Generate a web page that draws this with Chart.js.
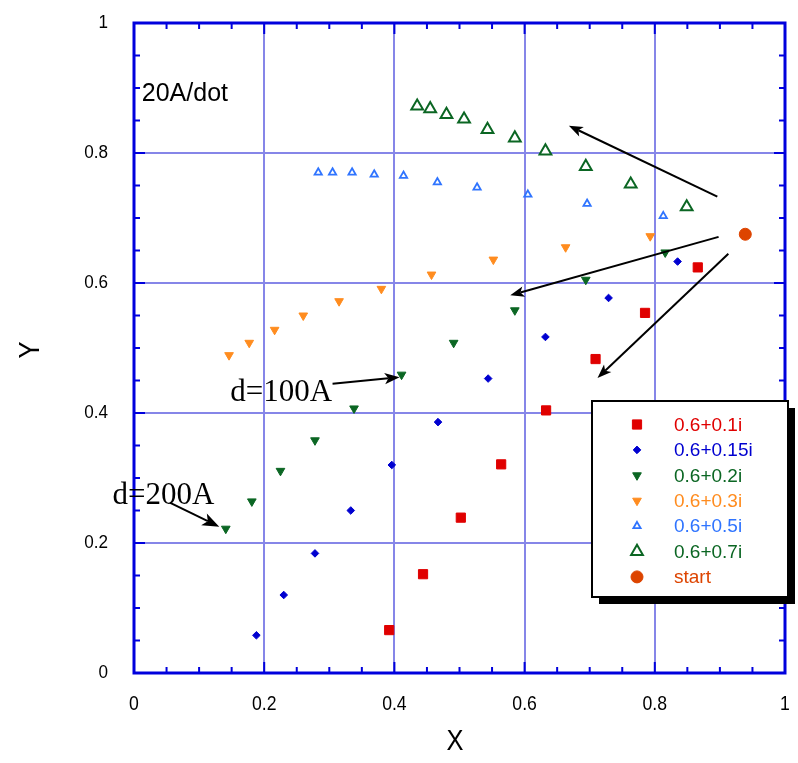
<!DOCTYPE html>
<html>
<head>
<meta charset="utf-8">
<script src="https://cdn.jsdelivr.net/npm/chart.js@4.4.1/dist/chart.umd.min.js"></script>
<style>
	body { margin: 0; background: #fff; }
	#wrap { width: 798px; height: 763px; }
</style>
</head>
<body>
<div id="wrap"><canvas id="chart" width="798" height="763"></canvas></div>
<script>
// axis ticks
var xTicks = [0, 0.2, 0.4, 0.6, 0.8, 1];
var xTickLabels = ['0', '0.2', '0.4', '0.6', '0.8', '1'];
var yTicks = [0, 0.2, 0.4, 0.6, 0.8, 1];
var yTickLabels = ['0', '0.2', '0.4', '0.6', '0.8', '1'];

// series
var seriesNames = ['0.6+0.1i', '0.6+0.15i', '0.6+0.2i', '0.6+0.3i', '0.6+0.5i', '0.6+0.7i', 'start'];

var x01 = [0.392, 0.444, 0.502, 0.564, 0.633, 0.709, 0.785, 0.866];
var y01 = [0.066, 0.152, 0.239, 0.321, 0.404, 0.483, 0.554, 0.624];

var x015 = [0.188, 0.230, 0.278, 0.333, 0.396, 0.467, 0.544, 0.632, 0.729, 0.835];
var y015 = [0.058, 0.120, 0.184, 0.250, 0.320, 0.386, 0.453, 0.517, 0.577, 0.633];

var x02 = [0.141, 0.181, 0.225, 0.278, 0.338, 0.411, 0.491, 0.585, 0.694, 0.816];
var y02 = [0.222, 0.264, 0.311, 0.358, 0.407, 0.459, 0.508, 0.558, 0.605, 0.647];

var x03 = [0.146, 0.177, 0.216, 0.260, 0.315, 0.380, 0.457, 0.552, 0.663, 0.793];
var y03 = [0.489, 0.508, 0.528, 0.550, 0.572, 0.591, 0.613, 0.636, 0.655, 0.672];

var x05 = [0.283, 0.305, 0.335, 0.369, 0.414, 0.466, 0.527, 0.605, 0.696, 0.813];
var y05 = [0.770, 0.770, 0.770, 0.767, 0.765, 0.755, 0.747, 0.736, 0.722, 0.703];

var x07 = [0.435, 0.455, 0.480, 0.507, 0.543, 0.585, 0.632, 0.694, 0.763, 0.849];
var y07 = [0.872, 0.868, 0.859, 0.852, 0.836, 0.823, 0.803, 0.779, 0.752, 0.717];

var xStart = [0.939];
var yStart = [0.675];

// annotations, in data units
var arrows = [
	{ from: [0.896, 0.733], to: [0.668, 0.842], head: 14 },
	{ from: [0.898, 0.671], to: [0.578, 0.581], head: 14 },
	{ from: [0.913, 0.645], to: [0.712, 0.454], head: 14 },
	{ from: [0.305, 0.445], to: [0.408, 0.455], head: 15 },
	{ from: [0.055, 0.262], to: [0.131, 0.225], head: 17 }
];
var notes = [
	{ text: '20A/dot', at: [0.012, 0.880], font: '25px "Liberation Sans", Arial, sans-serif' },
	{ text: 'd=100A', at: [0.148, 0.419], font: '31px "Liberation Serif", "Times New Roman", serif' },
	{ text: 'd=200A', at: [-0.033, 0.260], font: '31px "Liberation Serif", "Times New Roman", serif' }
];

function pts(xs, ys) {
	return xs.map(function(x, i) { return { x: x, y: ys[i] }; });
}

var COL_RED = '#e00000';
var COL_BLUE = '#0000d0';
var COL_GREEN = '#0b6623';
var COL_ORANGE = '#ff8c1f';
var COL_LBLUE = '#2f74ff';
var COL_START = '#dd4400';

function ds(label, data, color, style, radius, opts) {
	var d = {
		label: label,
		data: data,
		showLine: false,
		pointStyle: style,
		pointRadius: radius,
		pointHoverRadius: radius,
		pointBackgroundColor: color,
		pointBorderColor: color,
		pointBorderWidth: 1,
		pointRotation: 0,
		clip: false
	};
	for (var k in opts) d[k] = opts[k];
	return d;
}

var datasets = [
	ds(seriesNames[0], pts(x01, y01), COL_RED, 'rect', 6.5, {}),
	ds(seriesNames[1], pts(x015, y015), COL_BLUE, 'rectRot', 3.8, {}),
	ds(seriesNames[2], pts(x02, y02), COL_GREEN, 'triangle', 5, { pointRotation: 180 }),
	ds(seriesNames[3], pts(x03, y03), COL_ORANGE, 'triangle', 5, { pointRotation: 180 }),
	ds(seriesNames[4], pts(x05, y05), COL_LBLUE, 'triangle', 4.2, { pointBackgroundColor: '#fff', pointBorderWidth: 1.8 }),
	ds(seriesNames[5], pts(x07, y07), COL_GREEN, 'triangle', 6.8, { pointBackgroundColor: '#fff', pointBorderWidth: 2 }),
	ds(seriesNames[6], pts(xStart, yStart), COL_START, 'circle', 6, {})
];

function isMajor(v) {
	return Math.abs(v / 0.2 - Math.round(v / 0.2)) < 1e-6;
}

function gridColor(ctx) {
	var v = ctx.tick ? ctx.tick.value : 0;
	if (!isMajor(v) || v < 1e-6 || v > 1 - 1e-6) return 'rgba(0,0,0,0)';
	return '#8686e8';
}

function drawArrow(ctx, x1, y1, x2, y2, len) {
	var a = Math.atan2(y2 - y1, x2 - x1);
	var half = len * 0.38;
	var bx = x2 - Math.cos(a) * len, by = y2 - Math.sin(a) * len;
	var nx = x2 - Math.cos(a) * len * 0.75, ny = y2 - Math.sin(a) * len * 0.75;
	ctx.beginPath();
	ctx.moveTo(x1, y1);
	ctx.lineTo(nx, ny);
	ctx.stroke();
	ctx.beginPath();
	ctx.moveTo(x2, y2);
	ctx.lineTo(bx - Math.sin(a) * half, by + Math.cos(a) * half);
	ctx.lineTo(nx, ny);
	ctx.lineTo(bx + Math.sin(a) * half, by - Math.cos(a) * half);
	ctx.closePath();
	ctx.fill();
}

// narrow text, like the condensed face of the original
function narrowText(ctx, text, x, y, squeeze) {
	ctx.save();
	ctx.translate(x, y);
	ctx.scale(squeeze, 1);
	ctx.fillText(text, 0, 0);
	ctx.restore();
}

function legendPoint(ctx, d, x, y) {
	ctx.fillStyle = d.pointBackgroundColor;
	ctx.strokeStyle = d.pointBorderColor;
	ctx.lineWidth = d.pointBorderWidth;
	Chart.helpers.drawPoint(ctx, {
		pointStyle: d.pointStyle,
		rotation: d.pointRotation,
		radius: d.pointRadius,
		borderWidth: d.pointBorderWidth
	}, x, y);
}

var overlay = {
	id: 'overlay',
	afterDraw: function(chart) {
		var ctx = chart.ctx;
		var a = chart.chartArea;
		var sx = chart.scales.x, sy = chart.scales.y;
		ctx.save();

		// inward ticks on all four sides
		ctx.strokeStyle = '#0000dd';
		ctx.lineWidth = 2;
		ctx.beginPath();
		sx.ticks.forEach(function(t) {
			var px = sx.getPixelForValue(t.value);
			var l = isMajor(t.value) ? 11 : 6;
			ctx.moveTo(px, a.bottom); ctx.lineTo(px, a.bottom - l);
			ctx.moveTo(px, a.top); ctx.lineTo(px, a.top + l);
		});
		sy.ticks.forEach(function(t) {
			var py = sy.getPixelForValue(t.value);
			var l = isMajor(t.value) ? 11 : 6;
			ctx.moveTo(a.left, py); ctx.lineTo(a.left + l, py);
			ctx.moveTo(a.right, py); ctx.lineTo(a.right - l, py);
		});
		ctx.stroke();

		// frame
		ctx.lineWidth = 3;
		ctx.strokeStyle = '#0000dd';
		ctx.strokeRect(a.left, a.top, a.right - a.left, a.bottom - a.top);

		// tick labels
		ctx.fillStyle = '#000';
		ctx.font = '21px "Liberation Sans", Arial, sans-serif';
		ctx.textAlign = 'center';
		ctx.textBaseline = 'middle';
		xTicks.forEach(function(v, i) {
			narrowText(ctx, xTickLabels[i], sx.getPixelForValue(v), a.bottom + 31, 0.84);
		});
		ctx.font = '18px "Liberation Sans", Arial, sans-serif';
		ctx.textAlign = 'right';
		yTicks.forEach(function(v, i) {
			narrowText(ctx, yTickLabels[i], a.left - 26, sy.getPixelForValue(v), 0.95);
		});

		// axis titles
		ctx.font = '30px "Liberation Sans", Arial, sans-serif';
		ctx.textAlign = 'center';
		narrowText(ctx, 'X', 455, 742, 0.85);
		ctx.save();
		ctx.translate(31, 350);
		ctx.rotate(-Math.PI / 2);
		narrowText(ctx, 'Y', 0, 0, 0.85);
		ctx.restore();

		// arrows
		ctx.strokeStyle = '#000';
		ctx.fillStyle = '#000';
		ctx.lineWidth = 2;
		arrows.forEach(function(r) {
			drawArrow(ctx,
				sx.getPixelForValue(r.from[0]), sy.getPixelForValue(r.from[1]),
				sx.getPixelForValue(r.to[0]), sy.getPixelForValue(r.to[1]), r.head);
		});

		// notes
		ctx.textAlign = 'left';
		ctx.textBaseline = 'alphabetic';
		notes.forEach(function(n) {
			ctx.font = n.font;
			ctx.fillText(n.text, sx.getPixelForValue(n.at[0]), sy.getPixelForValue(n.at[1]));
		});

		// legend box with drop shadow
		var lx = 592, ly = 401, lw = 196, lh = 196;
		ctx.fillStyle = '#000';
		ctx.fillRect(lx + 7, ly + 7, lw, lh);
		ctx.fillStyle = '#fff';
		ctx.fillRect(lx, ly, lw, lh);
		ctx.lineWidth = 2;
		ctx.strokeStyle = '#000';
		ctx.strokeRect(lx, ly, lw, lh);

		ctx.font = '19px "Liberation Sans", Arial, sans-serif';
		ctx.textBaseline = 'middle';
		chart.data.datasets.forEach(function(d, i) {
			var y = ly + 23.5 + i * 25.4;
			legendPoint(ctx, d, lx + 45, y);
			ctx.fillStyle = d.pointBorderColor;
			ctx.fillText(d.label, lx + 82, y + 1);
		});

		ctx.restore();
	}
};

// eslint-disable-next-line no-undef
var chart = new Chart(document.getElementById('chart'), {
	type: 'scatter',
	data: { datasets: datasets },
	options: {
		responsive: false,
		animation: false,
		events: [],
		layout: { padding: { left: 134, right: 13, top: 23, bottom: 90 } },
		plugins: {
			legend: { display: false },
			tooltip: { enabled: false }
		},
		scales: {
			x: {
				type: 'linear',
				min: 0,
				max: 1,
				ticks: { display: false, stepSize: 0.05 },
				grid: { color: gridColor, lineWidth: 2, drawTicks: false },
				border: { display: false }
			},
			y: {
				type: 'linear',
				min: 0,
				max: 1,
				ticks: { display: false, stepSize: 0.05 },
				grid: { color: gridColor, lineWidth: 2, drawTicks: false },
				border: { display: false }
			}
		}
	},
	plugins: [overlay]
});
</script>
</body>
</html>
